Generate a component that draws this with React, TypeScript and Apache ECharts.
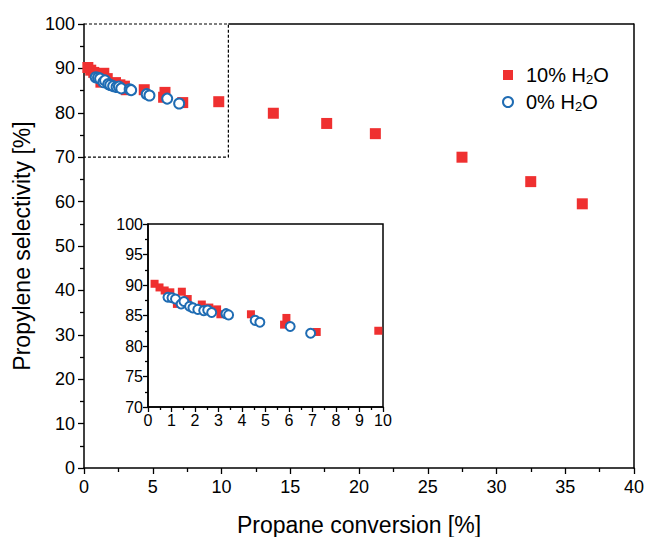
import React, { useEffect, useRef } from "react";
import * as echarts from "echarts";

const redX = [0.28, 0.49, 0.71, 0.95, 1.23, 1.44, 1.69, 2.29, 2.61, 2.94, 3.08, 4.38, 5.79, 5.89, 7.18, 9.8, 13.77, 17.65, 21.19, 27.49, 32.49, 36.24];
const redY = [90.2, 89.6, 89.1, 88.8, 86.9, 88.9, 87.7, 86.8, 86.3, 86.0, 85.2, 85.2, 83.5, 84.6, 82.3, 82.5, 79.9, 77.6, 75.3, 70.0, 64.5, 59.5];
const blueX = [0.85, 1.02, 1.17, 1.41, 1.53, 1.77, 1.91, 2.12, 2.37, 2.54, 2.71, 3.32, 3.43, 4.56, 4.76, 6.05, 6.92];
const blueY = [88.0, 87.9, 87.7, 86.9, 87.3, 86.5, 86.25, 86.0, 85.8, 85.9, 85.5, 85.3, 85.1, 84.2, 83.9, 83.2, 82.1];

const zoomBoxX = [0, 10.5, 10.5, 0];
const zoomBoxY = [100, 100, 70, 70];
const topBorderX = [10.5, 40];
const topBorderY = [100, 100];

const RED = "#ef3030";
const BLUE = "#1f6cb3";
const FONT = "Liberation Sans, Arial, sans-serif";

export default function App() {
  const ref = useRef<HTMLDivElement>(null);
  useEffect(() => {
    const chart = echarts.init(ref.current!, null, { renderer: "svg" });
    const red = redX.map((x, i) => [x, redY[i]]);
    const blue = blueX.map((x, i) => [x, blueY[i]]);
    const axisCommon = {
      axisLine: { show: true, lineStyle: { color: "#000", width: 1.5 } },
      axisTick: { show: true, inside: false, length: 6, lineStyle: { color: "#000", width: 1.3 } },
      minorTick: { show: true, splitNumber: 2, length: 4, lineStyle: { color: "#000", width: 1.3 } },
      splitLine: { show: false },
      axisLabel: { color: "#000", fontFamily: FONT },
    };
    chart.setOption({
      animation: false,
      backgroundColor: "#fff",
      textStyle: { fontFamily: FONT },
      legend: {
        data: ["10% H2O", "0% H2O"],
        orient: "vertical",
        left: 497,
        top: 60,
        itemWidth: 10,
        itemHeight: 10,
        itemGap: 6,
        formatter: (name: string) =>
          name === "10% H2O" ? "{a|10% H}{s|2}{a|O}" : "{a|0% H}{s|2}{a|O}",
        textStyle: {
          padding: [0, 0, 0, 8],
          rich: {
            a: { fontSize: 20, fontFamily: FONT, color: "#000" },
            s: { fontSize: 13, fontFamily: FONT, color: "#000", verticalAlign: "bottom", padding: [9, 0, 0, 0] },
          },
        },
      },
      grid: [
        { left: 84, top: 24, right: 14, bottom: 69, outerBoundsMode: "none", containLabel: false },
        {
          left: 148, top: 224, right: 265, bottom: 130, outerBoundsMode: "none", containLabel: false,
          show: true, backgroundColor: "#fff", borderColor: "#000", borderWidth: 1.5,
        },
      ],
      xAxis: [
        {
          ...axisCommon,
          gridIndex: 0,
          type: "value",
          min: 0,
          max: 40,
          interval: 5,
          axisLabel: { ...axisCommon.axisLabel, fontSize: 18, margin: 10 },
          name: "Propane conversion [%]",
          nameLocation: "middle",
          nameGap: 45,
          nameTextStyle: { fontSize: 23, color: "#000", fontFamily: FONT },
        },
        {
          ...axisCommon,
          gridIndex: 1,
          type: "value",
          min: 0,
          max: 10,
          interval: 1,
          axisTick: { ...axisCommon.axisTick, length: 5 },
          minorTick: { ...axisCommon.minorTick, length: 3 },
          axisLabel: { ...axisCommon.axisLabel, fontSize: 16, margin: 5 },
        },
      ],
      yAxis: [
        {
          ...axisCommon,
          gridIndex: 0,
          type: "value",
          min: 0,
          max: 100,
          interval: 10,
          axisLabel: { ...axisCommon.axisLabel, fontSize: 18, margin: 9 },
          name: "Propylene selectivity [%]",
          nameLocation: "middle",
          nameGap: 51,
          nameTextStyle: { fontSize: 23, color: "#000", fontFamily: FONT },
        },
        {
          gridIndex: 0,
          type: "value",
          position: "right",
          min: 0,
          max: 100,
          axisLine: { show: true, lineStyle: { color: "#000", width: 1.5 } },
          axisTick: { show: false },
          axisLabel: { show: false },
          splitLine: { show: false },
        },
        {
          ...axisCommon,
          gridIndex: 1,
          type: "value",
          min: 70,
          max: 100,
          interval: 5,
          axisTick: { ...axisCommon.axisTick, length: 5 },
          minorTick: { ...axisCommon.minorTick, length: 3 },
          axisLabel: { ...axisCommon.axisLabel, fontSize: 16, margin: 5 },
        },
      ],
      series: [
        {
          type: "line",
          xAxisIndex: 0,
          yAxisIndex: 0,
          data: topBorderX.map((x, i) => [x, topBorderY[i]]),
          symbol: "none",
          clip: false,
          lineStyle: { color: "#000", width: 1.5 },
          silent: true,
          z: 1,
        },
        {
          type: "line",
          xAxisIndex: 0,
          yAxisIndex: 0,
          data: zoomBoxX.map((x, i) => [x, zoomBoxY[i]]),
          symbol: "none",
          clip: false,
          lineStyle: { color: "#000", width: 1.2, type: [3, 2] },
          silent: true,
          z: 1,
        },
        {
          name: "10% H2O",
          type: "scatter",
          xAxisIndex: 0,
          yAxisIndex: 0,
          data: red,
          symbol: "rect",
          symbolSize: 11,
          itemStyle: { color: RED, opacity: 1 },
          z: 3,
        },
        {
          name: "0% H2O",
          type: "scatter",
          xAxisIndex: 0,
          yAxisIndex: 0,
          data: blue,
          symbol: "circle",
          symbolSize: 10,
          itemStyle: { color: "#fff", borderColor: BLUE, borderWidth: 2, opacity: 1 },
          z: 4,
        },
        {
          name: "inset red",
          type: "scatter",
          xAxisIndex: 1,
          yAxisIndex: 2,
          data: red,
          symbol: "rect",
          symbolSize: 8,
          itemStyle: { color: RED, opacity: 1 },
          z: 5,
        },
        {
          name: "inset blue",
          type: "scatter",
          xAxisIndex: 1,
          yAxisIndex: 2,
          data: blue,
          symbol: "circle",
          symbolSize: 9,
          itemStyle: { color: "#fff", borderColor: BLUE, borderWidth: 2, opacity: 1 },
          z: 6,
        },
      ],
    });
    return () => chart.dispose();
  }, []);
  return <div ref={ref} style={{ width: 648, height: 537, position: "absolute", left: 0, top: 0 }} />;
}
